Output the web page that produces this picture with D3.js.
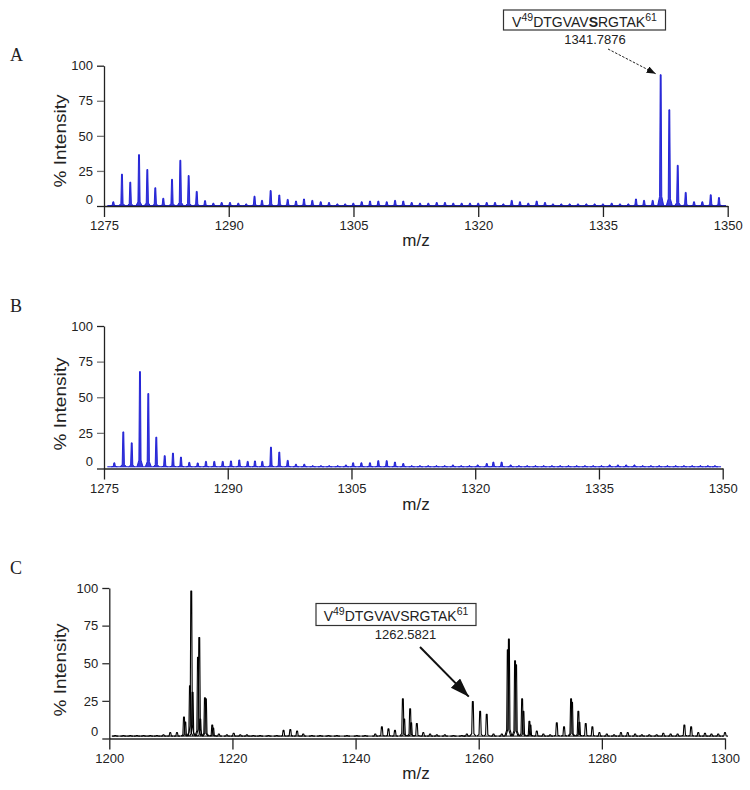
<!DOCTYPE html>
<html><head><meta charset="utf-8">
<script src="https://cdn.jsdelivr.net/npm/d3@7"></script>
<style>body{margin:0;background:#fff}</style>
</head><body><svg id="chart" width="750" height="790"></svg>
<script>
// ---------------- DATA ----------------
const panelLetters = ["A", "B", "C"];
const yTickValues = [0, 25, 50, 75, 100];
const xTicksAB = [1275, 1290, 1305, 1320, 1335, 1350];
const xTicksC = [1200, 1220, 1240, 1260, 1280, 1300];
const yAxisTitle = "% Intensity";
const xAxisTitle = "m/z";

// [m/z, % intensity]
const peaksA = [
[1276.12,3],[1277.16,22.7],[1278.16,17],[1279.21,36.6],[1280.21,26],[1281.17,13],[1282.13,5.5],[1283.18,19],[1284.18,32.6],[1285.18,21.7],[1286.15,10.4],[1287.15,3.8],[1288.15,2],[1289.15,2.5],[1290.15,2.5],[1291.15,2],[1292.1,1.5],[1293.1,7],[1294.0,4],[1295.04,11],[1296.08,7.8],[1297.09,4.7],[1298.09,3.5],[1299.05,5],[1300.05,4],[1301.06,3],[1302.06,2.5],[1303.06,1.5],[1304.0,1.5],[1304.98,2],[1305.99,3],[1306.99,3.5],[1307.99,3.5],[1309.0,3],[1310.0,4],[1310.99,3.5],[1312.0,2.5],[1313.0,2],[1314.0,2],[1315.01,2.5],[1316.0,2.5],[1317.0,2],[1318.01,2],[1319.01,2],[1320.0,2],[1321.02,2.5],[1322.02,2.5],[1323.02,1.5],[1324.03,4],[1325.02,3],[1326.02,2],[1327.03,3.5],[1328.03,2.5],[1328.99,1.5],[1329.99,1.5],[1331.0,1.5],[1332.0,1.5],[1333.0,1.5],[1334.0,1.5],[1335.0,1.5],[1336.05,2],[1337.05,1.5],[1338.05,1.5],[1338.97,5],[1339.94,4],[1340.98,4],[1341.94,93.6],[1342.98,68.6],[1343.99,29],[1344.95,9.7],[1345.95,3],[1346.95,3],[1347.96,8],[1348.95,6]
];
const peaksB = [
[1276.25,4],[1277.34,25.7],[1278.36,18],[1279.36,68],[1280.37,52.6],[1281.34,22],[1282.36,9],[1283.36,10.8],[1284.33,8],[1285.34,4.3],[1286.36,3.9],[1287.36,5],[1288.37,5],[1289.39,5],[1290.39,5.3],[1291.4,6],[1292.42,5],[1293.3,5.3],[1294.19,5],[1295.24,15],[1296.25,11.5],[1297.27,5.7],[1298.27,3],[1299.28,3],[1300.3,2],[1301.3,2],[1302.3,2],[1303.33,2],[1304.33,2.5],[1305.2,4],[1306.2,4],[1307.24,4],[1308.25,5.5],[1309.27,5.5],[1310.27,4.5],[1311.28,3.5],[1312.3,2],[1313.3,2],[1314.3,2],[1315.3,2],[1316.3,2],[1317.3,2.5],[1318.3,2],[1319.3,2],[1320.3,2.5],[1321.4,3.5],[1322.2,4.5],[1323.2,4.5],[1324.3,2.5],[1325.3,2],[1326.3,2],[1327.3,2],[1328.3,2],[1329.3,2],[1330.3,2],[1331.3,2],[1332.3,2],[1333.3,2],[1334.3,2],[1335.3,2],[1336.3,2.5],[1337.3,2.5],[1338.3,2.5],[1339.3,2.5],[1340.3,2],[1341.3,2],[1342.3,2],[1343.3,2],[1344.3,2],[1345.3,2],[1346.3,2],[1347.3,2],[1348.2,2],[1349.06,2]
];
const peaksC = [
[1200.97,2],[1202.3,2],[1203.41,2],[1204.49,2],[1205.57,2],[1206.66,2],[1207.74,2],[1208.8,2.5],[1209.9,4],[1210.99,4],
[1212.13,14.3],[1212.34,11],[1213.1,35],[1213.31,98],[1213.53,30.7],[1214.4,54],[1214.61,67],[1214.77,13],[1215.53,27],[1215.69,26.3],[1216.72,9],[1216.88,7],[1217.8,3],[1219.1,2.5],[1220.2,3.5],[1221.27,2.5],[1222.35,2.5],[1223.4,2],
[1224.5,2],[1225.86,2],[1227.2,2],[1228.3,5.5],[1229.4,6],[1230.5,5],[1231.5,3],[1232.9,2],[1234.25,2],[1235.6,2],[1236.96,2],[1238.6,2],[1240.2,2],[1241.56,2],[1243.2,3],[1244.27,7.7],[1245.34,6.4],[1246.4,5.5],[1247.68,26.3],[1247.9,13],[1248.86,19.7],[1249.03,10.4],[1249.95,10],[1251.0,4],[1252.1,3],[1253.2,2.5],[1254.5,2.5],[1255.9,2],[1257.25,2],[1258.07,3],[1259.04,24.5],[1260.23,18],[1261.3,16],[1262.4,3],
[1263.75,3],[1264.72,59],[1264.9,66],[1265.9,51.7],[1266.07,49],[1267.05,26.3],[1267.26,18],[1268.23,11.5],[1268.4,9],[1269.43,5],[1270.5,3],[1271.6,2.5],[1272.68,10.4],[1273.86,7.7],[1275.0,26.3],[1275.16,24],[1276.18,18],[1276.35,10.8],[1277.38,10],[1278.46,7.7],[1279.6,4],[1280.8,3],[1281.98,2.5],[1283.1,4],[1284.2,4],[1285.4,3],[1286.5,2.5],[1287.7,2.5],[1288.9,2.5],[1289.98,3.5],[1291.17,3],[1292.3,3],[1293.4,9],[1294.5,7.7],[1295.66,4],[1296.75,3.5],[1297.8,3],[1298.9,3],[1300.0,4]
];
const baselineLevels = [0.3, 1.2, 1.6];

// annotation: peptide label parts [text, kind]
const peptideParts = [["V","n"],["49","sup"],["DTGVAV","n"],["S","bold"],["RGTAK","n"],["61","sup"]];
const peptidePartsC = [["V","n"],["49","sup"],["DTGVAVSRGTAK","n"],["61","sup"]];
const annotationMassA = "1341.7876";
const annotationPeakA = [1341.94, 93.6];
const annotationMassC = "1262.5821";
const annotationPeakC = [1259.04, 24.5];

// ---------------- DRAWING ----------------
const FONT = "'Liberation Sans', Arial, Helvetica, sans-serif";
const SERIF = "'Liberation Serif', 'Times New Roman', serif";
const svg = d3.select("#chart");
const defs = svg.append("defs");
defs.append("marker").attr("id","headA").attr("markerUnits","userSpaceOnUse")
  .attr("markerWidth",10).attr("markerHeight",8).attr("refX",9).attr("refY",3.5).attr("orient","auto")
  .append("path").attr("d","M0,0 L9,3.5 L0,7 Z").attr("fill","#111");
defs.append("marker").attr("id","headC").attr("markerUnits","userSpaceOnUse")
  .attr("markerWidth",20).attr("markerHeight",14).attr("refX",19).attr("refY",6.5).attr("orient","auto")
  .append("path").attr("d","M0,0 L19,6.5 L0,13 Z").attr("fill","#111");

const layouts = [
  {x0:104, x1:727.7, yZero:206, yHundred:65.7, domain:[1275,1350], ticks:xTicksAB, peaks:peaksA,
   color:"#1717d4", filled:true, letterY:61, ylabelY:141, mzY:246, yTickColor:"#777"},
  {x0:104, x1:722.7, yZero:468.5, yHundred:326, domain:[1275,1350], ticks:xTicksAB, peaks:peaksB,
   color:"#1717d4", filled:true, letterY:312, ylabelY:404, mzY:510, yTickColor:"#777"},
  {x0:109.3, x1:725, yZero:738.5, yHundred:588, domain:[1200,1300], ticks:xTicksC, peaks:peaksC,
   color:"#000", filled:false, letterY:574, ylabelY:670, mzY:779, yTickColor:"#333"}
];

const scales = [];
layouts.forEach((L, i) => {
  const x = d3.scaleLinear().domain(L.domain).range([L.x0, L.x1]);
  const y = d3.scaleLinear().domain([0,100]).range([L.yZero, L.yHundred]);
  scales.push({x, y});
  const g = svg.append("g");
  const base = baselineLevels[i];
  const line = d3.line();

  // spectrum baseline
  g.append("path")
    .attr("d", line([[x(L.domain[0]+0.4), y(base)], [x(L.domain[1]-0.2), y(base)]]))
    .attr("fill","none").attr("stroke", L.color).attr("stroke-width", L.filled ? 1 : 1);

  // peaks
  g.selectAll("path.peak").data(L.peaks).join("path")
    .attr("class","peak")
    .attr("d", d => {
      const px = x(d[0]), pt = y(d[1]), pb = y(base);
      const foot = pb - (pb - pt) * 0.07;
      return line([[px-3, pb],[px-1.1, foot],[px-0.45, pt],[px+0.45, pt],[px+1.1, foot],[px+3, pb]]);
    })
    .attr("fill", L.filled ? L.color : "none")
    .attr("fill-opacity", L.filled ? 0.85 : 0)
    .attr("stroke", L.color)
    .attr("stroke-width", L.filled ? 0.9 : 1.1)
    .attr("stroke-linejoin","round");

  // axes
  const yAxis = d3.axisLeft(y).tickValues(yTickValues).tickSize(7).tickSizeOuter(0).tickPadding(4);
  const gy = svg.append("g").attr("transform", `translate(${L.x0},0)`).call(yAxis);
  gy.select(".domain").attr("stroke","#222").attr("stroke-width",1.3);
  gy.selectAll(".tick line").attr("stroke", d => d === 0 || d === 100 ? "#222" : L.yTickColor).attr("stroke-width",1.3);
  gy.selectAll(".tick text").attr("font-family", FONT).attr("font-size", 13).attr("fill","#222")
    .attr("transform", d => d === 0 ? "translate(0,-7)" : null);

  const xAxis = d3.axisBottom(x).tickValues(L.ticks).tickSize(11).tickSizeOuter(0).tickPadding(4).tickFormat(d3.format("d"));
  const gx = svg.append("g").attr("transform", `translate(0,${L.yZero})`).call(xAxis);
  gx.select(".domain").attr("stroke","#222").attr("stroke-width",1.3);
  gx.selectAll(".tick line").attr("stroke","#222").attr("stroke-width",1.3);
  gx.selectAll(".tick text").attr("font-family", FONT).attr("font-size", 13).attr("fill","#222");

  // titles
  svg.append("text").attr("transform", `translate(66,${L.ylabelY}) rotate(-90)`)
    .attr("text-anchor","middle").attr("font-family", FONT).attr("font-size",17).attr("fill","#222")
    .attr("textLength",93).attr("lengthAdjust","spacingAndGlyphs").text(yAxisTitle);
  svg.append("text").attr("x", 416).attr("y", L.mzY).attr("text-anchor","middle")
    .attr("font-family", FONT).attr("font-size",17).attr("fill","#222").text(xAxisTitle);
  svg.append("text").attr("x", 10).attr("y", L.letterY).attr("font-family", SERIF)
    .attr("font-size",18).attr("fill","#222").text(panelLetters[i]);
});

function peptideLabel(parent, cx, by, parts) {
  const t = parent.append("text").attr("x", cx).attr("y", by).attr("text-anchor","middle")
    .attr("font-family", FONT).attr("font-size",14).attr("fill","#222");
  let raised = false;
  parts.forEach(([s, kind]) => {
    const ts = t.append("tspan").text(s);
    if (kind === "sup") { ts.attr("font-size",10.5).attr("dy", raised ? 0 : -6); raised = true; }
    else { if (raised) { ts.attr("dy", 6); raised = false; } if (kind === "bold") ts.attr("font-weight","bold"); }
  });
  return t;
}

// Annotation A
{
  const {x, y} = scales[0];
  svg.append("rect").attr("x",503.5).attr("y",10).attr("width",162).attr("height",20)
    .attr("fill","#fff").attr("stroke","#333").attr("stroke-width",1.2);
  peptideLabel(svg, 584.5, 26.5, peptideParts);
  svg.append("text").attr("x",595).attr("y",43.5).attr("text-anchor","middle")
    .attr("font-family", FONT).attr("font-size",13).attr("fill","#222").text(annotationMassA);
  svg.append("line").attr("x1",608).attr("y1",49).attr("x2", x(annotationPeakA[0]) - 5).attr("y2", y(annotationPeakA[1]) - 1)
    .attr("stroke","#222").attr("stroke-width",1).attr("stroke-dasharray","2.5,1.5").attr("marker-end","url(#headA)");
}
// Annotation C
{
  const {x, y} = scales[2];
  svg.append("rect").attr("x",316).attr("y",603.5).attr("width",160).attr("height",22)
    .attr("fill","#fff").attr("stroke","#333").attr("stroke-width",1.2);
  peptideLabel(svg, 396, 621, peptidePartsC);
  svg.append("text").attr("x",405.5).attr("y",638.5).attr("text-anchor","middle")
    .attr("font-family", FONT).attr("font-size",13).attr("fill","#222").text(annotationMassC);
  svg.append("line").attr("x1",420).attr("y1",647).attr("x2", x(annotationPeakC[0]) - 4).attr("y2", y(annotationPeakC[1]) - 5)
    .attr("stroke","#111").attr("stroke-width",2).attr("marker-end","url(#headC)");
}
</script></body></html>
